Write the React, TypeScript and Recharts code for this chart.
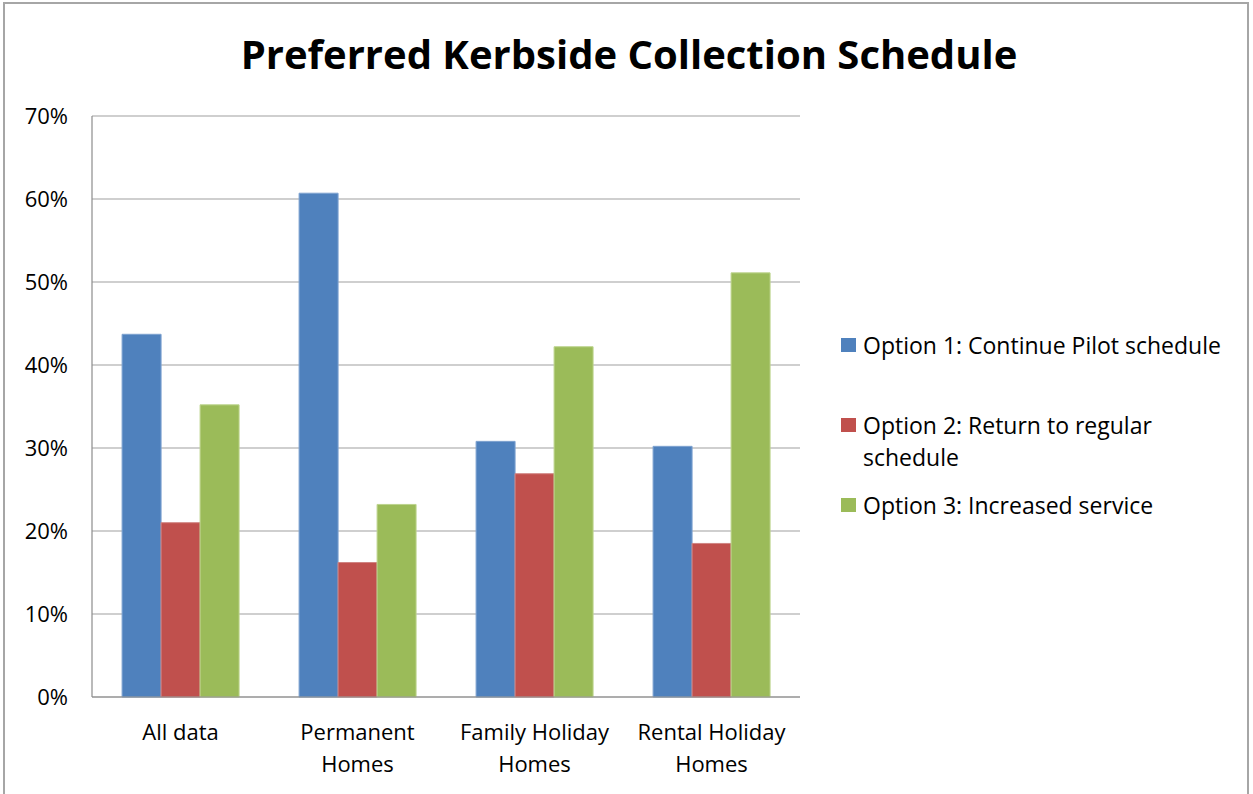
import React from "react";
import { BarChart, Bar, XAxis, YAxis, CartesianGrid, Legend } from "recharts";

const categories = ["All data", "Permanent Homes", "Family Holiday Homes", "Rental Holiday Homes"];
const categoryLines = [["All data"], ["Permanent", "Homes"], ["Family Holiday", "Homes"], ["Rental Holiday", "Homes"]];
const option1 = [43.7, 60.7, 30.8, 30.2];
const option2 = [21.0, 16.2, 26.9, 18.5];
const option3 = [35.2, 23.2, 42.2, 51.1];
const seriesNames = [
  "Option 1: Continue Pilot schedule",
  "Option 2: Return to regular schedule",
  "Option 3: Increased service",
];
const legendLines = [
  ["Option 1: Continue Pilot schedule"],
  ["Option 2: Return to regular", "schedule"],
  ["Option 3: Increased service"],
];
const yTicks = [0, 10, 20, 30, 40, 50, 60, 70];
const title = "Preferred Kerbside Collection Schedule";

const colors = ["#4F81BD", "#C0504D", "#9BBB59"];
const strokes = ["#7FA3D0", "#D08482", "#BDD48E"];
const FONT = "'Open Sans', Lato, sans-serif";

const data = categories.map((c, i) => ({
  name: c,
  o1: option1[i],
  o2: option2[i],
  o3: option3[i],
}));
const keys = ["o1", "o2", "o3"];

const XTick = (props: any) => {
  const { x, y, payload } = props;
  const idx = categories.indexOf(payload.value);
  const lines = categoryLines[idx] || [payload.value];
  return (
    <text x={x} y={y} textAnchor="middle" fill="#000" fontFamily={FONT} fontSize={22}>
      {lines.map((l, i) => (
        <tspan key={i} x={x} dy={i === 0 ? 43 : 32}>
          {l}
        </tspan>
      ))}
    </text>
  );
};

const gaps = [0, 48, 16];

const LegendContent = () => (
  <div style={{ fontFamily: FONT, fontSize: 23, color: "#000" }}>
    {seriesNames.map((n, i) => (
      <div key={n} style={{ display: "flex", alignItems: "flex-start", marginTop: gaps[i] }}>
        <div
          style={{
            width: 15,
            height: 14,
            background: colors[i],
            marginTop: 9,
            marginRight: 7,
            flex: "none",
          }}
        />
        <div style={{ lineHeight: "32px" }}>
          {legendLines[i].map((l, j) => (
            <div key={j} style={{ whiteSpace: "nowrap" }}>{l}</div>
          ))}
        </div>
      </div>
    ))}
  </div>
);

export default function App() {
  return (
    <div
      style={{
        position: "absolute",
        left: 0,
        top: 0,
        width: 1253,
        height: 794,
        overflow: "hidden",
        background: "#fff",
      }}
    >
      <div
        style={{
          position: "absolute",
          left: 3,
          top: 2,
          width: 1246,
          height: 820,
          border: "2px solid #a6a6a6",
          boxSizing: "border-box",
        }}
      />
      <div
        style={{
          position: "absolute",
          left: 0,
          width: 1253,
          top: 26,
          textAlign: "center",
          fontFamily: FONT,
          fontWeight: 700,
          fontSize: 40,
          lineHeight: "normal",
          color: "#000",
          paddingLeft: 5,
          boxSizing: "border-box",
        }}
      >
        {title}
      </div>
      <BarChart
        width={1253}
        height={794}
        data={data}
        margin={{ top: 116, right: 453, bottom: 0, left: 0 }}
        barCategoryGap="17%"
        barGap={0}
        style={{ position: "absolute", left: 0, top: 0 }}
      >
        <CartesianGrid vertical={false} stroke="#a0a0a0" strokeWidth={1.2} />
        <XAxis
          dataKey="name"
          height={97}
          tickLine={false}
          tickSize={0}
          tickMargin={0}
          axisLine={{ stroke: "#8c8c8c", strokeWidth: 1.2 }}
          tick={<XTick />}
          interval={0}
        />
        <YAxis
          width={92}
          domain={[0, 70]}
          ticks={yTicks}
          tickFormatter={(v: number) => `${v}%`}
          tickLine={false}
          tickSize={0}
          tickMargin={24}
          axisLine={{ stroke: "#8c8c8c", strokeWidth: 1.2 }}
          tick={{ fill: "#000", fontFamily: FONT, fontSize: 22 }}
          interval={0}
        />
        {keys.map((k, i) => (
          <Bar
            key={k}
            dataKey={k}
            name={seriesNames[i]}
            fill={colors[i]}
            stroke={strokes[i]}
            strokeWidth={1}
            isAnimationActive={false}
          />
        ))}
        <Legend
          layout="vertical"
          align="center"
          verticalAlign="middle"
          content={<LegendContent />}
          wrapperStyle={{ position: "absolute", left: 841, top: 329, width: 410 }}
        />
      </BarChart>
    </div>
  );
}
